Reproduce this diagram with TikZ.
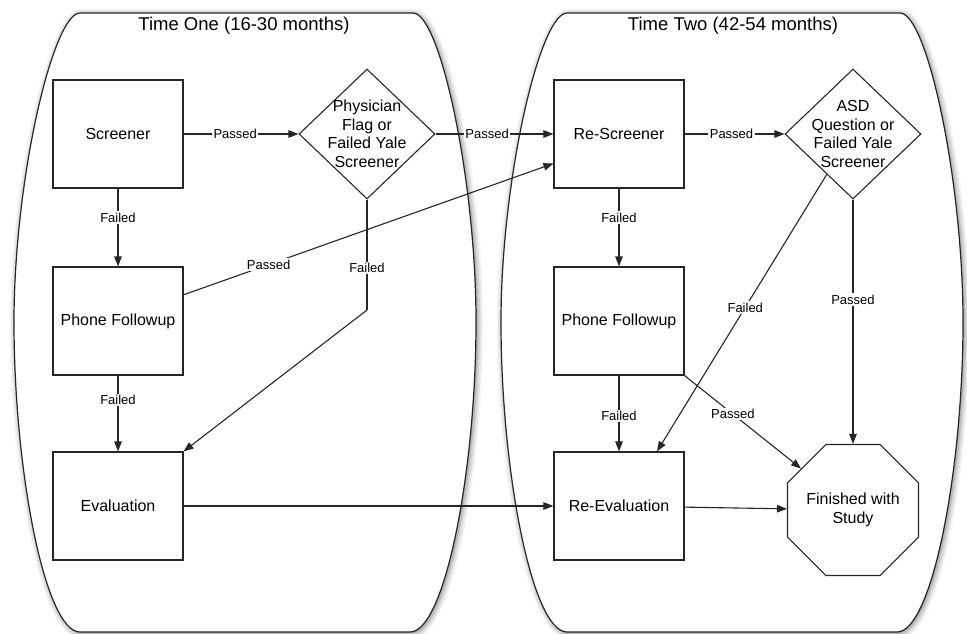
\documentclass[tikz,border=0pt]{standalone}
\usepackage{fontspec}
\setmainfont{Liberation Sans}
\usetikzlibrary{shapes.geometric,arrows.meta,shadows.blur,calc}
\begin{document}
\begin{tikzpicture}[x=1pt,y=-1pt,
  container/.style={draw=black!85, line width=1.2pt, fill=white,
    blur shadow={shadow xshift=1.5pt, shadow yshift=-1.5pt, shadow blur radius=6pt, shadow opacity=55}},
  title/.style={font=\fontsize{18.5}{21}\selectfont, inner sep=0pt},
  stepbox/.style={draw=black!85, line width=1.1pt, minimum width=130pt, minimum height=108pt,
    inner sep=0pt, font=\fontsize{16}{18.5}\selectfont, align=center},
  decision/.style={diamond, draw=black!85, line width=1.1pt, minimum width=136pt,
    minimum height=130pt, inner sep=0pt},
  dtext/.style={font=\fontsize{16}{18.5}\selectfont, align=center, inner sep=0pt},
  endnode/.style={regular polygon, regular polygon sides=8, draw=black!85, line width=1.1pt,
    minimum size=141.8pt, inner sep=0pt},
  lab/.style={font=\fontsize{13}{15}\selectfont, fill=white, inner sep=1.5pt},
  arr/.style={draw=black!85, line width=1.1pt, -{Triangle[length=10pt,width=7.5pt]}},
  plain/.style={draw=black!85, line width=1.1pt},
]
\useasboundingbox (0,0) rectangle (967,634);

% containers
\path[container] (80,13) -- (413,13) .. controls (440,13) and (476,180) .. (476,322)
  .. controls (476,470) and (445,632) .. (410,632) -- (80,632)
  .. controls (45,632) and (14,470) .. (14,322)
  .. controls (14,180) and (53,13) .. (80,13) -- cycle;
\begin{scope}[xshift=487pt]
\path[container] (80,13) -- (413,13) .. controls (440,13) and (476,180) .. (476,322)
  .. controls (476,470) and (445,632) .. (410,632) -- (80,632)
  .. controls (45,632) and (14,470) .. (14,322)
  .. controls (14,180) and (53,13) .. (80,13) -- cycle;
\end{scope}

\node[title] (t1) at (244,26) {Time One (16-30 months)};
\node[title] (t2) at (733,26) {Time Two (42-54 months)};

% nodes, time one
\node[stepbox] (scr) at (118,134) {Screener};
\node[stepbox] (ph1) at (118,321) {Phone Followup};
\node[stepbox] (eval) at (118,506) {Evaluation};
\node[decision] (phy) at (367,134) {};
\node[dtext] (phyt) at (phy) {Physician\\Flag or\\Failed Yale\\Screener};

% nodes, time two
\node[stepbox] (rscr) at (619,134) {Re-Screener};
\node[stepbox] (ph2) at (619,321) {Phone Followup};
\node[stepbox] (reev) at (619,506) {Re-Evaluation};
\node[decision] (asd) at (853,134) {};
\node[dtext] (asdt) at (asd) {ASD\\Question or\\Failed Yale\\Screener};
\node[endnode] (fin) at (853,510) {};
\node[dtext] (fint) at (fin) {Finished with\\Study};

\coordinate (bend) at (367,310);

% connectors, time one
\draw[arr] (scr) -- node[lab, pos=0.45] {Passed} (phy);
\draw[arr] (scr) -- node[lab, pos=0.37] {Failed} (ph1);
\draw[arr] (ph1) -- node[lab, pos=0.32] {Failed} (eval);
\draw[plain] (phy.south) -- node[lab, pos=0.62] {Failed} (bend);
\draw[arr] (bend) -- (eval.north east);
\draw[arr] (phy) -- node[lab, pos=0.437] {Passed} (rscr);
\draw[arr] ($(ph1.north east)!0.26!(ph1.south east)$) -- node[lab, pos=0.23] {Passed}
  ($(rscr.north west)!0.77!(rscr.south west)$);
\draw[arr] (eval) -- (reev);

% connectors, time two
\draw[arr] (rscr) -- node[lab, pos=0.37] {Failed} (ph2);
\draw[arr] (ph2) -- node[lab, pos=0.53] {Failed} (reev);
\draw[arr] (rscr) -- node[lab, pos=0.47] {Passed} (asd);
\draw[arr] (asd.237) -- node[lab, pos=0.48] {Failed} ($(reev.north west)!0.79!(reev.north east)$);
\draw[arr] (asd.south) -- node[lab, pos=0.41] {Passed} (fin);
\draw[arr] (ph2.south east) -- node[lab, pos=0.415] {Passed} (fin);
\draw[arr] (reev) -- (fin);
\end{tikzpicture}
\end{document}
